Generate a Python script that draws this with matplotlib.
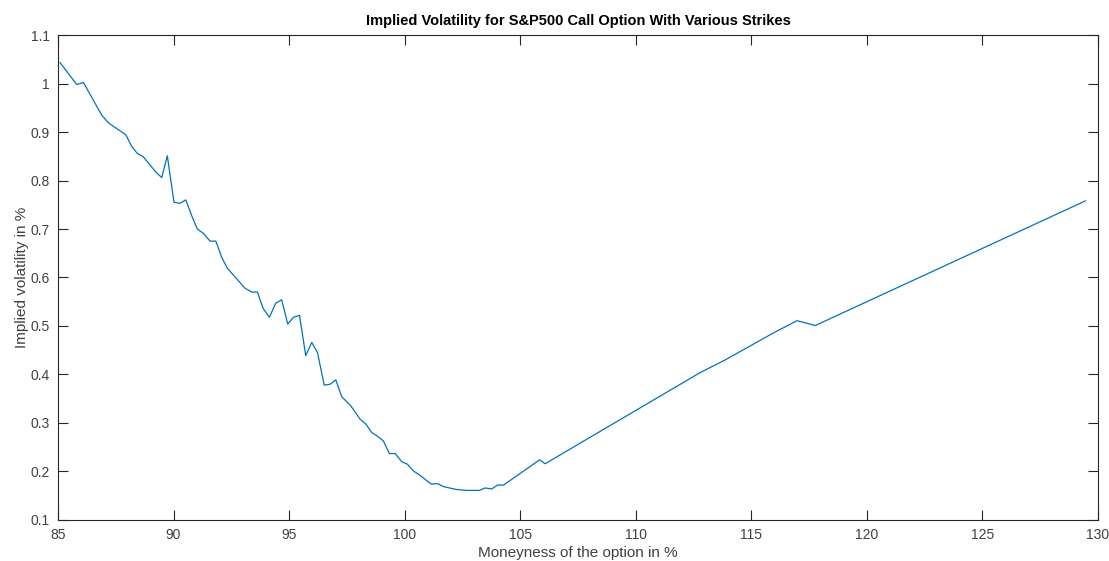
import numpy as np
import matplotlib.pyplot as plt
from matplotlib.ticker import FuncFormatter

# moneyness (%) and implied volatility
moneyness = [
    85.09, 85.81, 86.10, 86.89, 87.18, 87.94, 88.19, 88.43, 88.69, 89.24,
    89.49, 89.73, 90.02, 90.28, 90.53, 90.83, 91.03, 91.29, 91.58, 91.83,
    92.08, 92.33, 92.59, 92.85, 93.09, 93.38, 93.63, 93.88, 94.15, 94.42,
    94.68, 94.94, 95.19, 95.45, 95.72, 95.98, 96.23, 96.52, 96.78, 97.02,
    97.28, 97.64, 97.78, 98.07, 98.32, 98.58, 98.82, 99.08, 99.34, 99.59,
    99.88, 100.12, 100.38, 100.64, 101.15, 101.42, 101.68, 101.94, 102.23, 102.69,
    103.24, 103.48, 103.77, 104.02, 104.28, 105.84, 106.08, 112.79, 113.87, 115.97,
    116.98, 117.77, 129.46,
]
implied_vol = [
    1.043, 0.998, 1.002, 0.935, 0.919, 0.894, 0.870, 0.856, 0.849, 0.817,
    0.806, 0.851, 0.755, 0.753, 0.760, 0.722, 0.700, 0.691, 0.675, 0.675,
    0.642, 0.619, 0.605, 0.591, 0.578, 0.570, 0.570, 0.536, 0.518, 0.547,
    0.554, 0.504, 0.518, 0.522, 0.439, 0.466, 0.445, 0.378, 0.380, 0.389,
    0.354, 0.337, 0.328, 0.308, 0.298, 0.280, 0.273, 0.263, 0.237, 0.237,
    0.220, 0.215, 0.201, 0.193, 0.174, 0.175, 0.169, 0.166, 0.163, 0.161,
    0.161, 0.166, 0.164, 0.172, 0.172, 0.224, 0.216, 0.404, 0.430, 0.486,
    0.511, 0.501, 0.758,
]

plt.rcParams['font.family'] = ['Liberation Sans', 'DejaVu Sans']
axis_col = '#262626'
text_col = '#404040'

fig = plt.figure(figsize=(11.09, 5.61), dpi=100)
ax = fig.add_axes([0.0523, 0.0731, 0.9377, 0.8645])

ax.plot(moneyness, implied_vol, color='#0072BD', linewidth=0.9)

ax.set_xlim(85, 130)
ax.set_ylim(0.1, 1.1)
ax.set_xticks(np.arange(85, 131, 5))
ax.set_yticks(np.arange(0.1, 1.11, 0.1))
ax.yaxis.set_major_formatter(FuncFormatter(lambda v, p: '%g' % round(v, 2)))

ax.tick_params(direction='in', top=True, right=True, length=7.5, width=0.8,
               color=axis_col, labelcolor=text_col, labelsize=10, pad=6)
for s in ax.spines.values():
    s.set_color(axis_col)
    s.set_linewidth(0.8)

ax.set_title('Implied Volatility for S&P500 Call Option With Various Strikes',
             fontsize=10.5, fontweight='bold', color='black', pad=7)
ax.set_xlabel('Moneyness of the option in %', fontsize=11, color=text_col, labelpad=2.5)
ax.set_ylabel('Implied volatility in %', fontsize=11, color=text_col, labelpad=1)

fig.savefig('out.png', dpi=100)
